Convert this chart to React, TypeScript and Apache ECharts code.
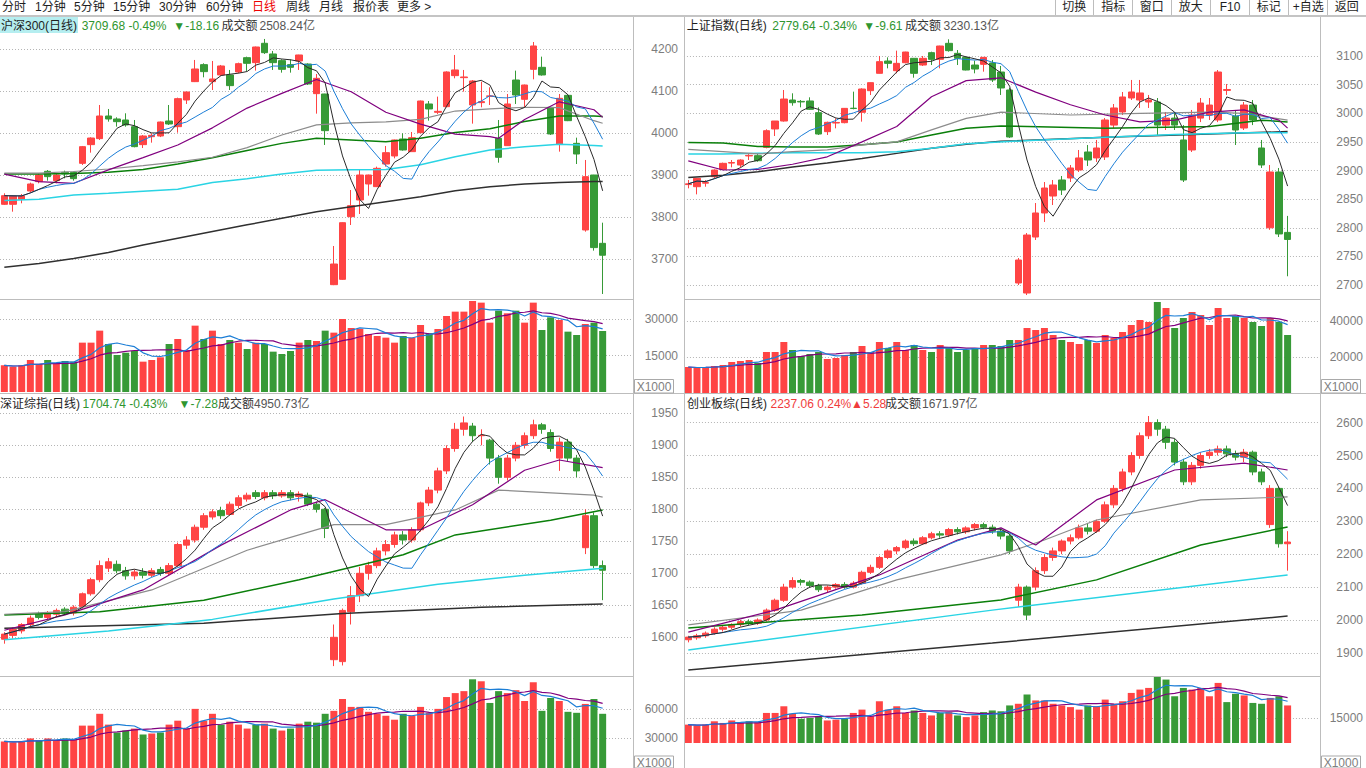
import React, { useEffect, useRef } from "react";
import * as echarts from "echarts";

const RED = "#ff4444";
const GREEN = "#379a37";
const FONT = '"Liberation Sans", "Noto Sans CJK SC", sans-serif';

const CATEGORY_COUNT = 73;
const dayLabels = Array.from({ length: CATEGORY_COUNT }, (_, i) => `D${i + 1}`);

// ---------- 沪深300 ----------
const hs300Candles = [
  [3830.9, 3851.5, 3829.3, 3857.1], [3830.9, 3850.7, 3813.4, 3851.5], [3842.8, 3850.7, 3833.3, 3855.5],
  [3862.6, 3879.3, 3858.7, 3882.5], [3884.9, 3900.7, 3880.9, 3904.7], [3909.5, 3896.8, 3887.2, 3912.6],
  [3887.2, 3900.7, 3880.9, 3903.1], [3907.1, 3903.1, 3892.8, 3911.1], [3907.1, 3892.0, 3887.2, 3908.7],
  [3928.5, 3968.2, 3924.6, 3969.8], [3973.0, 3988.8, 3953.9, 3990.4], [3987.3, 4041.2, 3984.1, 4067.4],
  [4041.2, 4034.1, 4027.7, 4057.9], [4034.1, 4027.7, 4015.8, 4038.1], [4031.7, 4019.8, 4015.8, 4047.6],
  [4015.8, 3968.2, 3966.6, 4031.7], [3973.0, 3993.6, 3965.0, 3996.0], [3992.0, 3995.2, 3977.7, 4000.0],
  [3993.6, 4026.9, 3991.0, 4028.0], [4029.3, 4022.2, 4019.8, 4067.4], [4015.8, 4082.5, 4001.5, 4084.9],
  [4079.3, 4098.4, 4069.8, 4099.0], [4123.0, 4153.1, 4122.0, 4174.6], [4163.5, 4146.8, 4133.3, 4166.6],
  [4123.0, 4129.3, 4103.1, 4172.2], [4138.9, 4160.3, 4136.5, 4162.7], [4138.9, 4113.5, 4103.1, 4150.8],
  [4146.0, 4165.8, 4142.8, 4168.2], [4180.1, 4166.6, 4148.4, 4182.5], [4168.2, 4205.5, 4149.2, 4206.5],
  [4214.3, 4192.0, 4188.9, 4224.6], [4188.9, 4168.2, 4150.8, 4196.0], [4173.0, 4152.3, 4144.4, 4176.2],
  [4163.5, 4157.1, 4144.4, 4176.2], [4172.2, 4186.5, 4150.8, 4187.0], [4165.0, 4117.4, 4115.0, 4166.6],
  [4094.4, 4130.9, 4046.8, 4141.2], [4093.6, 4006.3, 3972.2, 4094.0], [3639.6, 3688.8, 3638.5, 3731.7],
  [3652.3, 3787.2, 3651.0, 3788.0], [3801.5, 3827.7, 3781.7, 3865.0], [3841.2, 3900.7, 3807.9, 3912.6],
  [3879.3, 3900.7, 3851.5, 3901.5], [3873.0, 3916.6, 3872.0, 3920.6], [3926.9, 3953.9, 3920.6, 3969.8],
  [3946.0, 3984.1, 3940.4, 3985.0], [3986.5, 3960.3, 3958.7, 4000.0], [3956.3, 3989.6, 3955.5, 4003.1],
  [4001.5, 4076.9, 4000.0, 4078.0], [4069.8, 4057.9, 4030.1, 4076.9], [4050.0, 4052.3, 4046.0, 4087.3],
  [4063.4, 4146.0, 4061.9, 4147.6], [4137.3, 4150.8, 4130.9, 4186.5], [4132.5, 4134.1, 4099.2, 4150.8],
  [4067.4, 4124.6, 4023.0, 4126.9], [4073.0, 4075.4, 4061.9, 4123.0], [4088.0, 4089.0, 4067.4, 4109.5],
  [3988.0, 3942.8, 3930.1, 4031.7], [3970.6, 4069.8, 3970.0, 4093.6], [4126.9, 4091.2, 4069.8, 4149.2],
  [4080.9, 4115.0, 4061.1, 4116.0], [4152.3, 4207.9, 4128.5, 4217.4], [4157.1, 4138.9, 4137.3, 4182.5],
  [4061.9, 3998.4, 3996.0, 4062.5], [3974.6, 4083.3, 3956.3, 4093.6], [4090.4, 4030.1, 4029.0, 4091.0],
  [3976.1, 3950.7, 3926.9, 3989.6], [3769.8, 3896.8, 3765.8, 3936.5], [3900.7, 3727.84, 3720.6, 3901.0],
  [3738.0, 3709.68, 3617.4, 3787.2],
];
const hs300Vol = [
  11034, 10481, 11034, 13240, 11585, 13240, 11585, 12826, 12550, 20411, 20411, 25376, 19859, 15308,
  16274, 16963, 12550, 13240, 14343, 19859, 21928, 17377, 27445, 21928, 25376, 19859, 21514, 20411,
  17791, 20411, 19859, 16687, 15722, 16963, 20411, 21514, 21101, 25376, 24548, 30203, 26479, 26066,
  23997, 23169, 22480, 20411, 23169, 22480, 27720, 24273, 26066, 31444, 33237, 33237, 37650, 36960,
  28685, 33650, 32548, 33650, 28685, 36960, 25652, 30893, 29789, 24961, 23583, 28134, 28685, 25238,
];
const hs300Ma20 = [[0, 3903], [4, 3885], [8, 3881], [12, 3913], [16, 3942], [20, 3972], [24, 4013], [28, 4060], [32, 4095], [36, 4128], [40, 4099], [44, 4050], [48, 4022], [52, 3998], [56, 3992], [57, 3988], [60, 4033], [64, 4075], [68, 4056], [69, 4038]];
const hs300Ma30 = [[0, 3905], [4, 3905], [8, 3909], [12, 3915], [16, 3923], [20, 3932], [24, 3943], [28, 3966], [32, 3996], [36, 4020], [40, 4025], [44, 4027], [48, 4033], [52, 4053], [56, 4058], [60, 4062], [64, 4061], [68, 4030], [69, 4024]];
const hs300Ma60 = [[0, 3903], [4, 3903], [8, 3904], [12, 3907], [16, 3914], [20, 3927], [24, 3942], [28, 3959], [32, 3976], [36, 3988], [40, 3984], [44, 3980], [48, 3988], [52, 4002], [56, 4011], [60, 4028], [64, 4041], [68, 4041], [69, 4040]];
const hs300Ma120 = [[0, 3840], [4, 3843], [8, 3853], [12, 3857], [16, 3862], [20, 3867], [24, 3883], [28, 3892], [32, 3903], [36, 3912], [40, 3913], [44, 3914], [48, 3925], [52, 3944], [56, 3960], [60, 3968], [64, 3974], [68, 3971], [69, 3970]];
const hs300Ma250 = [[0, 3681], [4, 3690], [8, 3702], [12, 3716], [16, 3734], [20, 3750], [24, 3766], [28, 3782], [32, 3798], [36, 3813], [40, 3825], [44, 3837], [48, 3849], [52, 3863], [56, 3873], [60, 3879], [64, 3883], [68, 3885], [69, 3885]];

// ---------- 上证指数 ----------
const shCandles = [
  [2875.5, 2876.8, 2868.9, 2883.5], [2871.8, 2886.4, 2858.4, 2887.0], [2878.0, 2879.0, 2871.8, 2883.5],
  [2889.3, 2900.9, 2886.4, 2902.1], [2902.1, 2912.6, 2900.9, 2913.8], [2913.0, 2914.0, 2905.6, 2918.4],
  [2909.7, 2918.4, 2905.6, 2919.6], [2925.5, 2926.5, 2918.4, 2928.9], [2926.0, 2917.2, 2915.5, 2928.9],
  [2940.5, 2969.6, 2938.8, 2972.0], [2972.6, 2986.5, 2960.3, 2986.5], [2986.5, 3024.9, 2985.4, 3040.7],
  [3023.2, 3018.5, 3013.3, 3034.9], [3020.8, 3019.8, 3010.4, 3023.2], [3021.5, 3006.9, 3005.8, 3027.9],
  [3001.1, 2963.8, 2962.1, 3010.4], [2967.9, 2984.2, 2962.1, 2985.4], [2983.0, 2984.0, 2973.7, 2991.2],
  [2983.6, 3008.6, 2982.5, 3009.0], [3008.9, 3008.3, 3006.9, 3037.8], [3001.7, 3042.4, 2985.4, 3043.6],
  [3039.5, 3053.5, 3031.9, 3054.0], [3069.8, 3090.2, 3069.5, 3100.1], [3091.3, 3087.2, 3078.5, 3097.7],
  [3074.4, 3087.2, 3069.8, 3109.4], [3088.4, 3107.0, 3087.2, 3107.5], [3096.0, 3069.8, 3062.2, 3096.5],
  [3084.3, 3096.0, 3082.6, 3100.1], [3105.9, 3094.2, 3084.3, 3107.6], [3094.2, 3117.5, 3078.5, 3118.0],
  [3122.2, 3109.4, 3107.6, 3129.2], [3104.7, 3096.0, 3084.3, 3110.5], [3097.7, 3075.6, 3075.0, 3098.9],
  [3084.3, 3077.3, 3069.8, 3091.9], [3085.5, 3097.7, 3072.7, 3098.0], [3087.9, 3058.2, 3054.7, 3093.0],
  [3072.1, 3044.2, 3032.0, 3082.6], [3040.7, 2958.6, 2956.9, 3044.2], [2703.6, 2743.8, 2700.1, 2747.3],
  [2686.1, 2787.4, 2682.6, 2790.9], [2783.9, 2825.9, 2778.7, 2843.3], [2825.9, 2869.5, 2810.2, 2880.0],
  [2855.5, 2874.8, 2839.8, 2883.5], [2883.5, 2866.0, 2857.3, 2890.5], [2887.0, 2904.5, 2880.0, 2909.7],
  [2901.0, 2922.0, 2897.5, 2935.9], [2932.4, 2918.4, 2908.0, 2944.6], [2922.0, 2939.4, 2915.0, 2953.4],
  [2923.7, 2988.3, 2918.4, 2991.8], [2979.4, 3009.3, 2974.3, 3016.2], [3002.3, 3028.5, 2997.0, 3037.2],
  [3026.7, 3037.2, 3023.2, 3058.2], [3023.2, 3035.5, 3009.3, 3058.2], [3019.7, 3023.2, 3009.3, 3032.0],
  [3019.7, 2979.4, 2962.0, 3026.7], [2979.4, 2991.6, 2970.8, 3002.3], [2991.6, 2979.4, 2970.8, 3002.3],
  [2953.4, 2883.5, 2880.0, 2979.4], [2935.9, 2996.9, 2932.4, 3005.8], [2991.6, 3017.9, 2984.6, 3026.7],
  [2996.9, 3014.4, 2988.3, 3026.7], [2988.3, 3072.1, 2984.6, 3075.6], [3040.0, 3041.5, 3032.0, 3051.2],
  [2995.1, 2970.8, 2944.6, 3005.8], [2974.3, 3014.4, 2970.8, 3019.7], [3014.4, 2988.3, 2979.4, 3023.2],
  [2939.4, 2909.7, 2904.5, 2953.4], [2800.0, 2897.5, 2796.5, 2909.7], [2897.5, 2789.25, 2783.9, 2904.5],
  [2792.0, 2779.64, 2715.4, 2820.8],
];
const shVol = [
  14444, 13889, 14444, 15000, 15556, 17222, 17778, 18333, 16667, 22778, 22778, 28333, 23889, 20556,
  21667, 22778, 18889, 19444, 21111, 22778, 26111, 22778, 28333, 25000, 28333, 23889, 26667, 23889,
  22778, 26667, 25000, 22778, 23889, 25000, 26667, 26667, 26111, 29444, 29444, 36111, 35000, 36111,
  32222, 29444, 28333, 27222, 29444, 27778, 32222, 30556, 33889, 37778, 40556, 39444, 50556, 47222,
  36111, 41667, 45000, 43333, 37778, 47222, 41667, 42778, 41667, 39444, 37222, 41667, 39444, 32222,
];
const shMa20 = [[0, 2917], [4, 2901], [8, 2902], [12, 2911], [16, 2924], [20, 2950], [24, 2977], [28, 3029], [32, 3057], [36, 3062], [40, 3037], [44, 3015], [48, 2997], [52, 2985], [56, 2988], [60, 3002], [64, 3006], [68, 2988], [69, 2974]];
const shMa30 = [[0, 2937], [4, 2933], [8, 2929], [12, 2933], [16, 2936], [20, 2945], [24, 2950], [28, 2971], [32, 2991], [36, 3002], [44, 2997], [52, 3000], [60, 3002], [64, 3000], [69, 2988]];
const shMa60 = [[0, 2949], [4, 2948], [8, 2942], [12, 2941], [16, 2941], [20, 2945], [24, 2950], [28, 2962], [32, 2974], [36, 2978], [48, 2974], [60, 2977], [66, 2988], [69, 2985]];
const shMa120 = [[0, 2929], [4, 2929], [8, 2930], [12, 2931], [16, 2931], [20, 2931], [24, 2933], [28, 2939], [32, 2947], [40, 2953], [48, 2958], [56, 2963], [64, 2966], [69, 2966]];
const shMa250 = [[0, 2888], [4, 2892], [8, 2898], [12, 2906], [16, 2913], [20, 2921], [24, 2930], [28, 2939], [32, 2946], [36, 2951], [48, 2958], [60, 2964], [69, 2968]];

// ---------- 深证综指 ----------
const szCandles = [
  [1597, 1605, 1590, 1608], [1603, 1612, 1598, 1615], [1610, 1620, 1606, 1622], [1620, 1630, 1615, 1634],
  [1636, 1631, 1628, 1640], [1631, 1638, 1628, 1641], [1636, 1642, 1632, 1645], [1644, 1638, 1635, 1647],
  [1638, 1647, 1634, 1650], [1648, 1668, 1645, 1670], [1668, 1690, 1665, 1693], [1690, 1712, 1686, 1720],
  [1708, 1718, 1702, 1724], [1714, 1704, 1700, 1720], [1704, 1696, 1690, 1710], [1696, 1702, 1690, 1706],
  [1702, 1697, 1692, 1708], [1697, 1704, 1694, 1708], [1706, 1700, 1696, 1710], [1700, 1712, 1697, 1716],
  [1712, 1745, 1710, 1748], [1744, 1752, 1738, 1758], [1752, 1772, 1748, 1776], [1772, 1790, 1768, 1794],
  [1788, 1796, 1784, 1800], [1798, 1790, 1785, 1804], [1792, 1808, 1790, 1812], [1806, 1818, 1802, 1822],
  [1816, 1822, 1812, 1826], [1826, 1820, 1816, 1830], [1818, 1826, 1814, 1830], [1826, 1821, 1816, 1830],
  [1821, 1826, 1818, 1830], [1826, 1818, 1814, 1830], [1820, 1824, 1812, 1828], [1822, 1808, 1805, 1826],
  [1808, 1800, 1795, 1812], [1800, 1770, 1755, 1802], [1565, 1600, 1555, 1620], [1562, 1642, 1556, 1645],
  [1640, 1665, 1620, 1680], [1665, 1700, 1655, 1710], [1700, 1712, 1690, 1718], [1712, 1735, 1708, 1740],
  [1735, 1745, 1728, 1752], [1745, 1760, 1740, 1765], [1760, 1752, 1745, 1766], [1752, 1768, 1748, 1772],
  [1768, 1810, 1765, 1812], [1810, 1830, 1805, 1835], [1830, 1860, 1825, 1865], [1860, 1895, 1855, 1900],
  [1895, 1925, 1890, 1935], [1925, 1935, 1915, 1945], [1930, 1915, 1905, 1935], [1915, 1915.5, 1900, 1925],
  [1908, 1880, 1870, 1910], [1880, 1850, 1840, 1885], [1850, 1880, 1845, 1885], [1880, 1900, 1875, 1905],
  [1900, 1915, 1895, 1920], [1915, 1932, 1910, 1940], [1932, 1925, 1918, 1935], [1920, 1895, 1890, 1925],
  [1880, 1905, 1860, 1912], [1905, 1880, 1875, 1910], [1880, 1860, 1850, 1885], [1740, 1790, 1730, 1800],
  [1790, 1712.02, 1708, 1795], [1712, 1704.74, 1658, 1720],
];
const szVol = [
  27000, 26000, 27000, 30000, 28000, 30000, 28000, 30000, 29000, 43000, 43000, 55000, 44000, 36000,
  38000, 40000, 34000, 35000, 36000, 44000, 48000, 40000, 60000, 48000, 55000, 44000, 47000, 44000,
  40000, 44000, 45000, 40000, 38000, 40000, 45000, 47000, 46000, 55000, 58000, 70000, 62000, 62000,
  57000, 55000, 53000, 49000, 55000, 53000, 62000, 56000, 60000, 72000, 76000, 78000, 90000, 88000,
  66000, 78000, 76000, 79000, 68000, 87000, 58000, 71000, 68000, 57000, 56000, 65000, 70000, 55000,
];
const szMa20 = [[0, 1611], [7, 1635], [16, 1674], [25, 1744], [33, 1799], [37, 1815], [44, 1768], [48, 1768], [54, 1807], [60, 1861], [64, 1877], [69, 1865]];
const szMa30 = [[0, 1636], [7, 1640], [17, 1674], [28, 1736], [38, 1776], [44, 1776], [52, 1799], [57, 1830], [68, 1822], [69, 1819]];
const szMa60 = [[0, 1635], [11, 1640], [23, 1658], [34, 1690], [46, 1729], [52, 1760], [63, 1783], [69, 1799]];
const szMa120 = [[0, 1596], [12, 1610], [24, 1628], [38, 1660], [50, 1683], [60, 1697], [69, 1708]];
const szMa250 = [[0, 1614], [23, 1622], [39, 1637], [55, 1647], [69, 1652]];

// ---------- 创业板综 ----------
const cyCandles = [
  [1940, 1948, 1932, 1952], [1946, 1952, 1940, 1958], [1952, 1960, 1946, 1965], [1960, 1972, 1955, 1978],
  [1972, 1978, 1965, 1985], [1978, 1986, 1972, 1990], [1986, 1995, 1980, 2000], [1995, 1990, 1985, 2002],
  [1990, 2000, 1985, 2005], [2000, 2030, 1995, 2035], [2030, 2060, 2025, 2065], [2060, 2100, 2055, 2110],
  [2100, 2120, 2095, 2130], [2120, 2115, 2105, 2125], [2115, 2105, 2098, 2120], [2105, 2092, 2085, 2110],
  [2092, 2100, 2085, 2105], [2100, 2108, 2095, 2112], [2108, 2100, 2095, 2115], [2100, 2112, 2096, 2118],
  [2112, 2145, 2108, 2150], [2145, 2160, 2140, 2168], [2160, 2190, 2155, 2195], [2190, 2210, 2185, 2215],
  [2210, 2220, 2200, 2225], [2220, 2240, 2215, 2245], [2240, 2232, 2225, 2248], [2232, 2250, 2228, 2255],
  [2250, 2262, 2245, 2268], [2262, 2258, 2250, 2270], [2258, 2275, 2252, 2280], [2275, 2268, 2260, 2282],
  [2268, 2280, 2262, 2285], [2280, 2290, 2272, 2295], [2290, 2282, 2276, 2296], [2282, 2270, 2262, 2290],
  [2270, 2255, 2245, 2278], [2255, 2210, 2200, 2262], [2060, 2100, 2040, 2110], [2100, 2015, 2000, 2105],
  [2100, 2150, 2090, 2160], [2150, 2190, 2140, 2200], [2190, 2210, 2180, 2220], [2210, 2240, 2200, 2245],
  [2240, 2250, 2230, 2260], [2250, 2280, 2245, 2290], [2280, 2270, 2260, 2295], [2270, 2300, 2265, 2305],
  [2300, 2350, 2295, 2360], [2350, 2400, 2340, 2410], [2400, 2450, 2390, 2460], [2450, 2500, 2440, 2510],
  [2500, 2560, 2490, 2570], [2560, 2600, 2550, 2620], [2600, 2580, 2560, 2610], [2580, 2540, 2520, 2590],
  [2540, 2480, 2470, 2550], [2480, 2420, 2410, 2490], [2420, 2470, 2410, 2480], [2470, 2500, 2460, 2510],
  [2500, 2510, 2490, 2520], [2510, 2520, 2500, 2530], [2520, 2505, 2495, 2530], [2505, 2495, 2485, 2515],
  [2495, 2510, 2480, 2520], [2510, 2450, 2440, 2515], [2450, 2420, 2410, 2460], [2290, 2400, 2280, 2410],
  [2400, 2231.78, 2220, 2405], [2231.78, 2237.06, 2150, 2270],
];
const cyVol = [
  11000, 10500, 11000, 13000, 12000, 13500, 12000, 13000, 12500, 18000, 18000, 22000, 17500, 14500,
  15000, 16000, 13500, 14000, 14500, 18000, 20000, 16000, 25000, 20000, 22000, 18000, 19500, 18000,
  16500, 18000, 18500, 16500, 15500, 16500, 18500, 19500, 19000, 22500, 23500, 29000, 25500, 25500,
  23500, 22500, 21500, 20000, 22500, 22000, 26000, 23500, 25000, 30000, 32000, 33000, 40000, 38000,
  28000, 33000, 32000, 33000, 28000, 36000, 24500, 29500, 28500, 24000, 23500, 27000, 28000, 22500,
];
const cyMa20 = [[0, 1963], [10, 2030], [22, 2137], [31, 2243], [36, 2280], [40, 2228], [47, 2365], [56, 2456], [64, 2477], [69, 2456]];
const cyMa30 = [[0, 1985], [13, 2030], [24, 2122], [36, 2198], [41, 2243], [47, 2304], [59, 2365], [69, 2374]];
const cyMa60 = [[0, 1976], [20, 2015], [36, 2061], [47, 2122], [59, 2228], [69, 2283]];
const cyMa120 = [[0, 1909], [35, 2030], [69, 2137]];
const cyMa250 = [[0, 1848], [35, 1930], [69, 2012]];

// ---------- texts ----------
const toolbarItems = ["分时", "1分钟", "5分钟", "15分钟", "30分钟", "60分钟", "日线", "周线", "月线", "报价表", "更多 >"];
const buttonItems = ["切换", "指标", "窗口", "放大", "F10", "标记", "+自选", "返回"];
const priceTitles = [
  ["沪深300(日线)", "3709.68 -0.49%", "▼-18.16", "成交额", "2508.24亿"],
  ["上证指数(日线)", "2779.64 -0.34%", "▼-9.61", "成交额", "3230.13亿"],
  ["深证综指(日线)", "1704.74 -0.43%", "▼-7.28", "成交额", "4950.73亿"],
  ["创业板综(日线)", "2237.06 0.24%", "▲5.28", "成交额", "1671.97亿"],
];

// ---------- layout (pixels) ----------
const toolbarX = [2, 35, 74, 113, 159, 206, 252, 286, 319, 353, 397];
const buttonCenters = [1074.3, 1113.3, 1151.7, 1190.7, 1230, 1268.7, 1308.3, 1346.7];
const buttonSeps = [1055.5, 1093.5, 1132.5, 1171.5, 1210.5, 1249.5, 1288.5, 1327.5];
const titleX = [
  [1, 81.7, 173.3, 221.5, 259.5],
  [686.7, 772.3, 863.3, 905, 943.5],
  [0, 82.6, 178.6, 218, 254],
  [687, 770.5, 851, 885, 922],
];
const PANEL_W = 636.05;

const panels = [
  {
    candles: hs300Candles, vol: hs300Vol, sparse: [hs300Ma20, hs300Ma30, hs300Ma60, hs300Ma120, hs300Ma250],
    left: -3.05, titleY: 25.5, up: false,
    price: { top: 7.3, height: 294, min: 3600, max: 4300, interval: 100 },
    volume: { top: 283.2, height: 108.8, min: 0, max: 45000, interval: 15000 },
  },
  {
    candles: shCandles, vol: shVol, sparse: [shMa20, shMa30, shMa60, shMa120, shMa250],
    left: 683.95, titleY: 25.5, up: false,
    price: { top: 27.4, height: 286.3, min: 2650, max: 3150, interval: 50 },
    volume: { top: 285, height: 108, min: 0, max: 60000, interval: 20000 },
  },
  {
    candles: szCandles, vol: szVol, sparse: [szMa20, szMa30, szMa60, szMa120, szMa250],
    left: -3.05, titleY: 403.5, up: false,
    price: { top: 381.3, height: 288, min: 1550, max: 2000, interval: 50 },
    volume: { top: 679.3, height: 90, min: 0, max: 90000, interval: 30000 },
  },
  {
    candles: cyCandles, vol: cyVol, sparse: [cyMa20, cyMa30, cyMa60, cyMa120, cyMa250],
    left: 683.95, titleY: 403.5, up: true,
    price: { top: 389.7, height: 296.1, min: 1800, max: 2700, interval: 100 },
    volume: { top: 667.9, height: 134.8, min: -15000, max: 45000, interval: 30000 },
  },
];

const SPARSE_STYLE = [
  { color: "#80007f", width: 1.2 },
  { color: "#8c8c8c", width: 1.2 },
  { color: "#0a7f0a", width: 1.5 },
  { color: "#2ad4e4", width: 1.5 },
  { color: "#303030", width: 1.5 },
];

function movingAvg(values: number[], n: number) {
  return values.map((_, i) => {
    const s = Math.max(0, i - n + 1);
    let sum = 0;
    for (let k = s; k <= i; k++) sum += values[k];
    return +(sum / (i - s + 1)).toFixed(2);
  });
}

function txt(x: number, y: number, text: string, fill: string, align = "left") {
  return {
    type: "text", x, y, silent: true, z: 100,
    style: { text, fill, font: `12px ${FONT}`, align, verticalAlign: "middle", textAlign: align, textVerticalAlign: "middle" },
  };
}
function vline(x: number, y1: number, y2: number, color = "#bdbdbd") {
  return { type: "line", silent: true, z: 90, shape: { x1: x, y1, x2: x, y2 }, style: { stroke: color, lineWidth: 1 } };
}
function hline(x1: number, x2: number, y: number, color = "#bdbdbd") {
  return { type: "line", silent: true, z: 90, shape: { x1, y1: y, x2, y2: y }, style: { stroke: color, lineWidth: 1 } };
}
function unitBox(x: number, y: number, h: number) {
  return [
    { type: "rect", silent: true, z: 95, shape: { x, y, width: 39, height: h }, style: { fill: "#ffffff", stroke: "#a9a9a9", lineWidth: 1 } },
    txt(x + 19.5, y + h / 2 + 0.5, "X1000", "#808080", "center"),
  ];
}

function valueAxis(gridIndex: number, cfg: any) {
  return {
    type: "value", gridIndex, position: "right", min: cfg.min, max: cfg.max, interval: cfg.interval,
    axisLine: { show: false }, axisTick: { show: false },
    axisLabel: {
      color: "#7d7d7d", fontSize: 12, fontFamily: FONT, align: "right", margin: 45,
      showMinLabel: false, showMaxLabel: false, formatter: (v: number) => String(v),
    },
    splitLine: { show: true, showMinLine: false, showMaxLine: false, lineStyle: { color: "#b5b5b5", type: [1, 2], width: 1 } },
  };
}

function buildOption() {
  const grid: any[] = [];
  const xAxis: any[] = [];
  const yAxis: any[] = [];
  const series: any[] = [];
  panels.forEach((p, k) => {
    const gi = k * 2;
    const vi = k * 2 + 1;
    grid.push({ left: p.left, width: PANEL_W, top: p.price.top, height: p.price.height });
    grid.push({ left: p.left, width: PANEL_W, top: p.volume.top, height: p.volume.height });
    [gi, vi].forEach((g) => xAxis.push({ type: "category", gridIndex: g, data: dayLabels, boundaryGap: true, show: false }));
    yAxis.push(valueAxis(gi, p.price));
    yAxis.push(valueAxis(vi, p.volume));
    const closes = p.candles.map((c) => c[1]);
    series.push({
      type: "candlestick", xAxisIndex: gi, yAxisIndex: gi, data: p.candles, barWidth: 7,
      itemStyle: { color: RED, color0: GREEN, borderColor: RED, borderColor0: GREEN, borderWidth: 1 },
    });
    p.sparse.slice().reverse().forEach((d, jr) => {
      const st = SPARSE_STYLE[SPARSE_STYLE.length - 1 - jr];
      series.push({ type: "line", xAxisIndex: gi, yAxisIndex: gi, data: d, symbol: "none", silent: true, lineStyle: { color: st.color, width: st.width } });
    });
    series.push({ type: "line", xAxisIndex: gi, yAxisIndex: gi, data: movingAvg(closes, 10), symbol: "none", silent: true, lineStyle: { color: "#1c7ed6", width: 1 } });
    series.push({ type: "line", xAxisIndex: gi, yAxisIndex: gi, data: movingAvg(closes, 5), symbol: "none", silent: true, lineStyle: { color: "#2a2a2a", width: 1 } });
    series.push({
      type: "bar", xAxisIndex: vi, yAxisIndex: vi, barWidth: 7,
      data: p.vol.map((v, i) => ({ value: v, itemStyle: { color: p.candles[i][1] >= p.candles[i][0] ? RED : GREEN } })),
    });
    series.push({ type: "line", xAxisIndex: vi, yAxisIndex: vi, data: movingAvg(p.vol, 10), symbol: "none", silent: true, lineStyle: { color: "#80007f", width: 1.2 } });
    series.push({ type: "line", xAxisIndex: vi, yAxisIndex: vi, data: movingAvg(p.vol, 5), symbol: "none", silent: true, lineStyle: { color: "#1c7ed6", width: 1.2 } });
  });

  const elements: any[] = [];
  elements.push({ type: "rect", silent: true, z: 90, shape: { x: 0, y: 15, width: 1366, height: 2 }, style: { fill: "#c4c4c4" } });
  toolbarItems.forEach((t, i) => elements.push(txt(toolbarX[i], 7, t, i === 6 ? "#ee0000" : "#1e1e1e")));
  buttonSeps.forEach((x) => elements.push(vline(x, 0, 15)));
  buttonItems.forEach((t, i) => elements.push(txt(buttonCenters[i], 7, t, "#1e1e1e", "center")));
  elements.push(vline(633.5, 17, 768), vline(684.5, 17, 768), vline(1320.5, 17, 768));
  elements.push(hline(0, 633.5, 299.5), hline(684.5, 1320.5, 299.5));
  elements.push(hline(0, 1366, 393.5));
  elements.push(hline(0, 633.5, 676.5), hline(684.5, 1320.5, 676.5));
  elements.push(...unitBox(634.5, 379.5, 13.5), ...unitBox(1321.5, 379.5, 13.5), ...unitBox(634.5, 756, 12), ...unitBox(1321.5, 756, 12));
  elements.push({ type: "rect", silent: true, z: 95, shape: { x: 0, y: 17, width: 78, height: 16 }, style: { fill: "#b5eef0" } });
  panels.forEach((p, k) => {
    const t = priceTitles[k];
    const xs = titleX[k];
    const chg = p.up ? "#f03c3c" : "#2f962f";
    elements.push(txt(xs[0], p.titleY, t[0], "#1e1e1e"));
    elements.push(txt(xs[1], p.titleY, t[1], chg));
    elements.push(txt(xs[2], p.titleY, t[2], chg));
    elements.push(txt(xs[3], p.titleY, t[3], "#333333"));
    elements.push(txt(xs[4], p.titleY, t[4], "#555555"));
  });

  return { animation: false, backgroundColor: "#ffffff", grid, xAxis, yAxis, series, graphic: { elements } };
}

export default function App() {
  const ref = useRef<HTMLDivElement>(null);
  useEffect(() => {
    if (!ref.current) return;
    const chart = echarts.init(ref.current, undefined, { renderer: "svg" });
    chart.setOption(buildOption() as any);
    return () => chart.dispose();
  }, []);
  return (
    <div
      ref={ref}
      style={{ position: "fixed", left: 0, top: 0, width: 1366, height: 768, background: "#ffffff" }}
    />
  );
}
